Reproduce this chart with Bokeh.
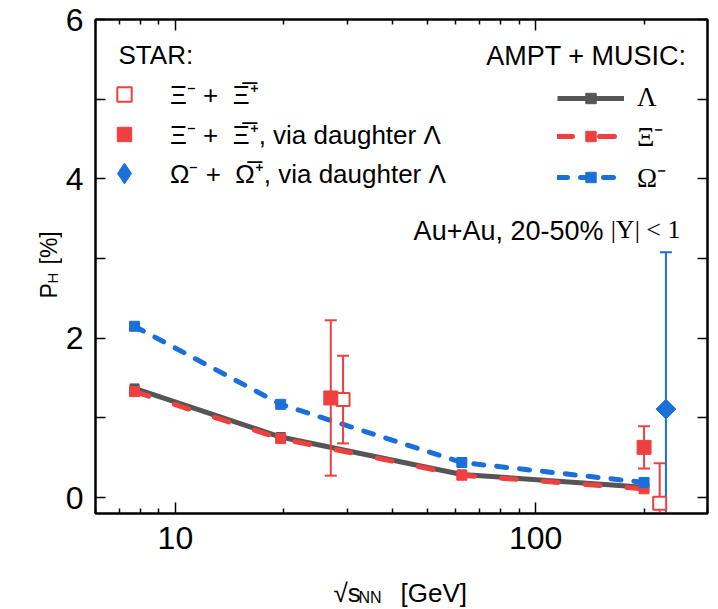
from math import pi
from bokeh.plotting import figure
from bokeh.layouts import column, row
from bokeh.models import (Range1d, LinearAxis, LogAxis, FixedTicker, Legend, LegendItem,
                          Label, PrintfTickFormatter)
from bokeh.embed import file_html
from bokeh.resources import INLINE

# ---------------- data ----------------
model_x = [7.7, 19.6, 62.4, 200]
model_lambda = [1.37, 0.76, 0.29, 0.13]
model_xi = [1.33, 0.74, 0.28, 0.11]
model_omega = [2.15, 1.17, 0.44, 0.19]

star_xi_x = [29.2, 221]
star_xi_y = [1.23, -0.07]
star_xi_err = [0.55, 0.50]

star_xi_lam_x = [27, 200]
star_xi_lam_y = [1.25, 0.63]
star_xi_lam_err = [0.975, 0.265]

star_om_x = [230]
star_om_y = [1.11]
star_om_err = [1.97]

x_major = [10, 100]
x_minor = [6, 7, 8, 9, 20, 30, 40, 50, 60, 70, 80, 90, 200, 300]
y_major = [0, 2, 4, 6]
y_minor = [1, 3, 5]

RED = "#EF4040"
BLUE = "#1B6FD8"
GRAY = "#555555"
SANS = "Liberation Sans"
SERIF = "Liberation Serif"

YLAB_W = 62
MAIN_W = 718 - YLAB_W
MAIN_H = 566
XLAB_H = 609 - MAIN_H
FRAME_BOTTOM = 513

p = figure(width=MAIN_W, height=MAIN_H, x_axis_type="log",
           x_range=Range1d(6, 300), y_range=Range1d(-0.2, 6),
           output_backend="svg", toolbar_location=None,
           min_border_left=95 - YLAB_W, min_border_right=11,
           min_border_top=19, min_border_bottom=MAIN_H - FRAME_BOTTOM)
p.grid.visible = False
p.outline_line_color = "black"
p.outline_line_width = 2
p.background_fill_color = "white"
p.border_fill_color = "white"


def style_axis(ax, ticks, minor, major_len, minor_len, labels=True):
    ax.ticker = FixedTicker(ticks=ticks, minor_ticks=minor)
    ax.axis_line_width = 2
    ax.axis_line_color = "black"
    ax.major_tick_in = major_len
    ax.major_tick_out = 0
    ax.minor_tick_in = minor_len
    ax.minor_tick_out = 0
    ax.major_tick_line_width = 1.5
    ax.minor_tick_line_width = 1.5
    ax.major_tick_line_color = "black"
    ax.minor_tick_line_color = "black"
    ax.major_label_text_font = SANS
    ax.major_label_text_color = "black"
    if labels:
        ax.major_label_text_font_size = "32px"
        ax.formatter = PrintfTickFormatter(format="%d")
    else:
        ax.major_label_text_font_size = "0px"
        ax.major_label_text_alpha = 0


style_axis(p.xaxis[0], x_major, x_minor, 11, 5)
p.xaxis[0].major_label_standoff = 13
style_axis(p.yaxis[0], y_major, y_minor, 10, 10)
p.yaxis[0].major_label_standoff = 12

top = LogAxis()
style_axis(top, x_major, x_minor, 11, 5, labels=False)
p.add_layout(top, "above")
right = LinearAxis()
style_axis(right, y_major, y_minor, 10, 10, labels=False)
p.add_layout(right, "right")

# ---------------- model curves ----------------
g_line = p.line(model_x, model_lambda, line_color=GRAY, line_width=5)
g_pts = p.scatter(model_x, model_lambda, marker="square", size=9, color=GRAY)
r_line = p.line(model_x, model_xi, line_color=RED, line_width=5, line_dash="15 27",
                line_cap="round")
r_pts = p.scatter(model_x, model_xi, marker="square", size=10, color=RED)
b_line = p.line(model_x, model_omega, line_color=BLUE, line_width=5, line_dash="10 13",
                line_cap="round")
b_pts = p.scatter(model_x, model_omega, marker="square", size=10, color=BLUE)


# ---------------- STAR data ----------------
def errbars(xs, ys, es, color):
    lo = [y - e for y, e in zip(ys, es)]
    hi = [y + e for y, e in zip(ys, es)]
    p.segment(x0=xs, y0=lo, x1=xs, y1=hi, line_color=color, line_width=2)
    p.scatter(xs, hi, marker="dash", size=12, line_color=color, line_width=2)
    p.scatter(xs, lo, marker="dash", size=12, line_color=color, line_width=2)


errbars(star_xi_lam_x, star_xi_lam_y, star_xi_lam_err, RED)
errbars(star_xi_x, star_xi_y, star_xi_err, RED)
errbars(star_om_x, star_om_y, star_om_err, BLUE)

s_open = p.scatter(star_xi_x, star_xi_y, marker="square", size=13, fill_color="white",
                   line_color=RED, line_width=2)
s_fill = p.scatter(star_xi_lam_x, star_xi_lam_y, marker="square", size=14, color=RED)
s_om = p.scatter(star_om_x, star_om_y, marker="square", angle=pi / 4, size=14, color=BLUE)
s_om_key = p.scatter(star_om_x, star_om_y, marker="diamond", size=19, color=BLUE)

# ---------------- legends ----------------
common = dict(padding=0, margin=0, border_line_color=None, background_fill_alpha=0,
              label_text_color="black")
leg_star = Legend(items=[
    LegendItem(label="Ξ⁻ +  Ξ̅⁺", renderers=[s_open]),
    LegendItem(label="Ξ⁻ +  Ξ̅⁺, via daughter Λ", renderers=[s_fill]),
], location=(11, FRAME_BOTTOM - 152), spacing=4,
    glyph_width=36, glyph_height=36, label_height=36, label_standoff=28,
    label_text_font=SANS, label_text_font_size="26px", **common)
p.add_layout(leg_star)

leg_om = Legend(items=[
    LegendItem(label="Ω⁻ +  Ω̅⁺, via daughter Λ", renderers=[s_om_key]),
], location=(3, FRAME_BOTTOM - 199), spacing=0,
    glyph_width=52, glyph_height=52, label_height=52, label_standoff=20,
    label_text_font=SANS, label_text_font_size="26px", **common)
p.add_layout(leg_om)

leg_model = Legend(items=[
    LegendItem(label="Λ", renderers=[g_line, g_pts]),
    LegendItem(label="Ξ⁻", renderers=[r_line, r_pts]),
    LegendItem(label="Ω⁻", renderers=[b_line, b_pts]),
], location=(462, FRAME_BOTTOM - 195), spacing=4,
    glyph_width=67, glyph_height=26, label_height=30, label_standoff=13,
    label_text_font=SERIF, label_text_font_size="27px", **common)
p.add_layout(leg_model)


def lab(fig, x, y, text, font=SANS, size="26px", **kw):
    fig.add_layout(Label(x=x, y=y, x_units="screen", y_units="screen", text=text,
                         text_font=font, text_font_size=size, text_color="black", **kw))


lab(p, 23, 459, "STAR:", text_baseline="middle", text_align="left")
lab(p, 591, 458, "AMPT + MUSIC:", size="27px", text_baseline="middle", text_align="right")

# annotation
lab(p, 508, 283, "Au+Au, 20-50%", size="27px", text_align="right", text_baseline="alphabetic")
lab(p, 585, 284, "|Y| < 1", font=SERIF, text_align="right", text_baseline="alphabetic")


# ---------------- axis titles (separate strips, with subscripts) ----------------
def strip(w, h):
    f = figure(width=w, height=h, x_range=Range1d(0, w), y_range=Range1d(0, h),
               output_backend="svg", toolbar_location=None,
               x_axis_location=None, y_axis_location=None,
               min_border=0, min_border_left=0, min_border_right=0,
               min_border_top=0, min_border_bottom=0)
    f.grid.visible = False
    f.outline_line_color = None
    f.background_fill_color = "white"
    f.border_fill_color = "white"
    return f


# the y strip's frame is aligned with the main frame (rows align frames),
# so its label positions are measured from the main frame bottom
ylab = strip(YLAB_W, MAIN_H)
lab(ylab, 48, FRAME_BOTTOM - 298, "P", size="23px", angle=pi / 2, text_baseline="alphabetic")
lab(ylab, 52, FRAME_BOTTOM - 283, "H", size="15px", angle=pi / 2, text_baseline="alphabetic")
lab(ylab, 48, FRAME_BOTTOM - 264, "[%]", size="23px", angle=pi / 2, text_baseline="alphabetic")

xlab = strip(718, XLAB_H)
lab(xlab, 333, 609 - 592, "√s", text_baseline="alphabetic")
lab(xlab, 358, 609 - 597, "NN", size="16px", text_baseline="alphabetic")
lab(xlab, 400, 609 - 592, "[GeV]", text_baseline="alphabetic")

layout = column(row(ylab, p, spacing=0), xlab, spacing=0)

open("out.html", "w").write(file_html(layout, INLINE))
